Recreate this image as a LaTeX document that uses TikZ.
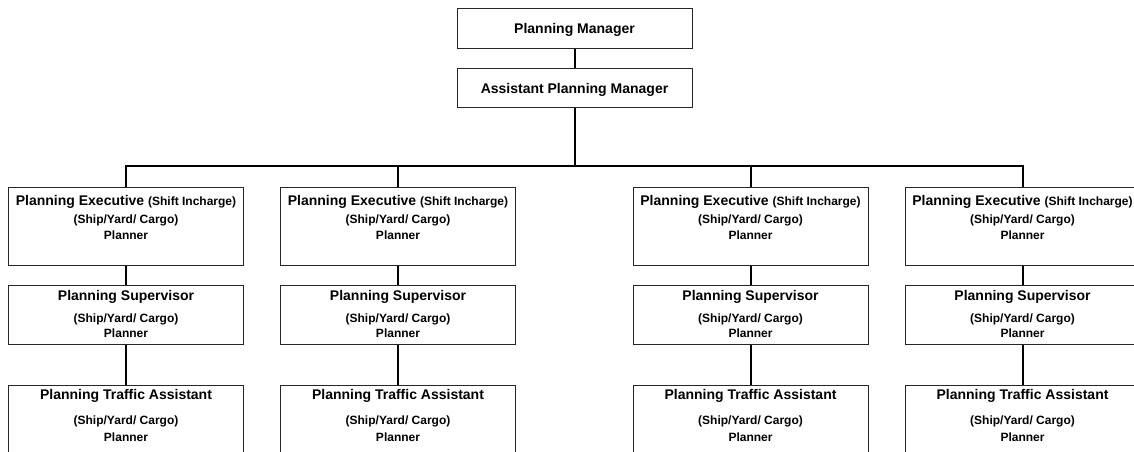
\documentclass[tikz,border=0pt]{standalone}
\usepackage{fontspec}
\setmainfont{Liberation Sans}
\usetikzlibrary{calc}
\begin{document}
\begin{tikzpicture}[x=1pt,y=-1pt,
  box/.style={draw=black!85,line width=0.9pt,fill=white,rectangle,inner sep=0pt,minimum width=235pt,anchor=north},
  conn/.style={draw=black,line width=2pt},
  big/.style={font=\fontsize{14}{16}\selectfont\bfseries,inner sep=0pt,anchor=base},
  small/.style={font=\fontsize{12}{14}\selectfont\bfseries,inner sep=0pt,anchor=base}]
\useasboundingbox (0,0) rectangle (1134,451);
\clip (0,0) rectangle (1134,451);
% top boxes
\node[box,minimum height=40pt] (pm) at (574.5,8) {};
\node[big] (pmt) at ($(pm.north)+(0,25)$) {Planning Manager};
\node[box,minimum height=39pt] (apm) at (574.5,68) {};
\node[big] (apmt) at ($(apm.north)+(0,25)$) {Assistant Planning Manager};
\draw[conn] (pm.south) -- (apm.north);
\coordinate (hub) at (574.5,165.5);
\draw[conn] (apm.south) -- (hub);
% columns
\foreach \i/\cx in {1/126,2/398,3/750.5,4/1022.5}{
  \node[box,minimum height=78pt] (ex\i) at (\cx,187) {};
  \node[big] (ext\i) at ($(ex\i.north)+(0,18)$) {Planning Executive {\fontsize{12}{14}\selectfont (Shift Incharge)}};
  \node[small] (exs\i) at ($(ex\i.north)+(0,36)$) {(Ship/Yard/ Cargo)};
  \node[small] (exp\i) at ($(ex\i.north)+(0,52)$) {Planner};
  \node[box,minimum height=59pt] (su\i) at (\cx,285) {};
  \node[big] (sut\i) at ($(su\i.north)+(0,15)$) {Planning Supervisor};
  \node[small] (sus\i) at ($(su\i.north)+(0,37)$) {(Ship/Yard/ Cargo)};
  \node[small] (sup\i) at ($(su\i.north)+(0,52)$) {Planner};
  \node[box,minimum height=80pt] (tr\i) at (\cx,385) {};
  \node[big] (trt\i) at ($(tr\i.north)+(0,14)$) {Planning Traffic Assistant};
  \node[small] (trs\i) at ($(tr\i.north)+(0,39)$) {(Ship/Yard/ Cargo)};
  \node[small] (trp\i) at ($(tr\i.north)+(0,56)$) {Planner};
  \draw[conn] (hub) -| (ex\i.north);
  \draw[conn] (ex\i.south) -- (su\i.north);
  \draw[conn] (su\i.south) -- (tr\i.north);
}
\end{tikzpicture}
\end{document}
